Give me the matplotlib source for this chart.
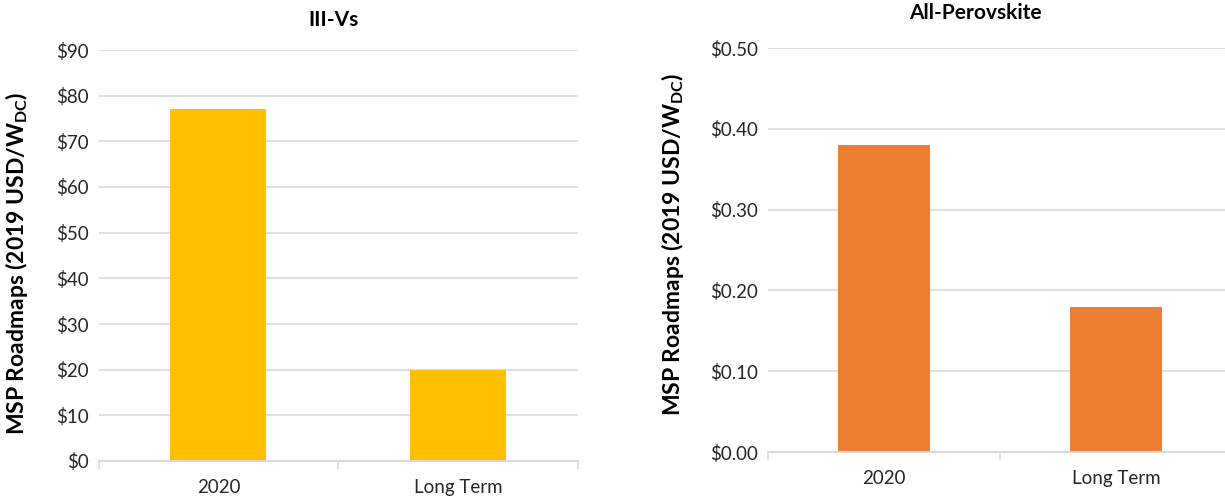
import matplotlib
matplotlib.use("Agg")
import matplotlib.pyplot as plt
from matplotlib.ticker import FixedLocator, NullFormatter

plt.rcParams['font.family'] = ['Lato', 'DejaVu Sans']
plt.rcParams['mathtext.fontset'] = 'custom'
plt.rcParams['mathtext.rm'] = 'Lato'
plt.rcParams['mathtext.bf'] = 'Lato:bold'

categories = ["2020", "Long Term"]

iii_v_values = [77, 20]
iii_v_ticks = [0, 10, 20, 30, 40, 50, 60, 70, 80, 90]
iii_v_ticklabels = ["$0", "$10", "$20", "$30", "$40", "$50", "$60", "$70", "$80", "$90"]

perov_values = [0.38, 0.18]
perov_ticks = [0.0, 0.1, 0.2, 0.3, 0.4, 0.5]
perov_ticklabels = ["$0.00", "$0.10", "$0.20", "$0.30", "$0.40", "$0.50"]

ylabel = r"MSP Roadmaps (2019 USD/W$_{\mathbf{DC}}$)"

GRID = "#D9D9D9"
TEXT = "#262626"

W, H = 1225, 499
fig = plt.figure(figsize=(W / 100, H / 100), dpi=100)


def px_axes(x0, x1, y_top, y_bot):
    return fig.add_axes([x0 / W, 1 - y_bot / H, (x1 - x0) / W, (y_bot - y_top) / H])


def draw_panel(ax, values, color, ticks, ticklabels, title, title_xy, label_xy):
    x = list(range(len(categories)))
    ax.bar(x, values, width=0.40, color=color, zorder=2)
    ax.set_xlim(-0.5, len(categories) - 0.5)
    ax.set_ylim(ticks[0], ticks[-1])
    ax.set_yticks(ticks)
    ax.set_yticklabels(ticklabels, fontsize=13.5, color=TEXT)
    ax.set_xticks(x)
    ax.set_xticklabels(categories, fontsize=13.5, color=TEXT)
    ax.tick_params(axis='x', which='major', length=0, pad=13)
    ax.xaxis.set_minor_locator(FixedLocator([-0.5 + i for i in range(len(categories) + 1)]))
    ax.xaxis.set_minor_formatter(NullFormatter())
    ax.tick_params(axis='x', which='minor', length=6, color=GRID, width=1.2)
    ax.tick_params(axis='y', length=0, pad=7)
    ax.set_axisbelow(True)
    ax.grid(axis='y', color=GRID, linewidth=1.2)
    for side in ('top', 'right', 'left'):
        ax.spines[side].set_visible(False)
    ax.spines['bottom'].set_color(GRID)
    ax.spines['bottom'].set_linewidth(1.5)
    ax.spines['bottom'].set_zorder(3)
    fig.text(title_xy[0] / W, 1 - title_xy[1] / H, title, fontsize=15, fontweight='bold',
             ha='center', va='center', color='black')
    fig.text(label_xy[0] / W, 1 - label_xy[1] / H, ylabel, fontsize=16.5, fontweight='bold',
             rotation=90, ha='center', va='center', color='black')


ax1 = px_axes(98.5, 578, 50, 461)
draw_panel(ax1, iii_v_values, "#FFC000", iii_v_ticks, iii_v_ticklabels,
           "III-Vs", (334, 20), (17, 263))

ax2 = px_axes(768, 1232, 48, 452)
draw_panel(ax2, perov_values, "#ED7D31", perov_ticks, perov_ticklabels,
           "All-Perovskite", (975, 13), (672, 244))

fig.savefig("out.png", dpi=100, facecolor="white")
